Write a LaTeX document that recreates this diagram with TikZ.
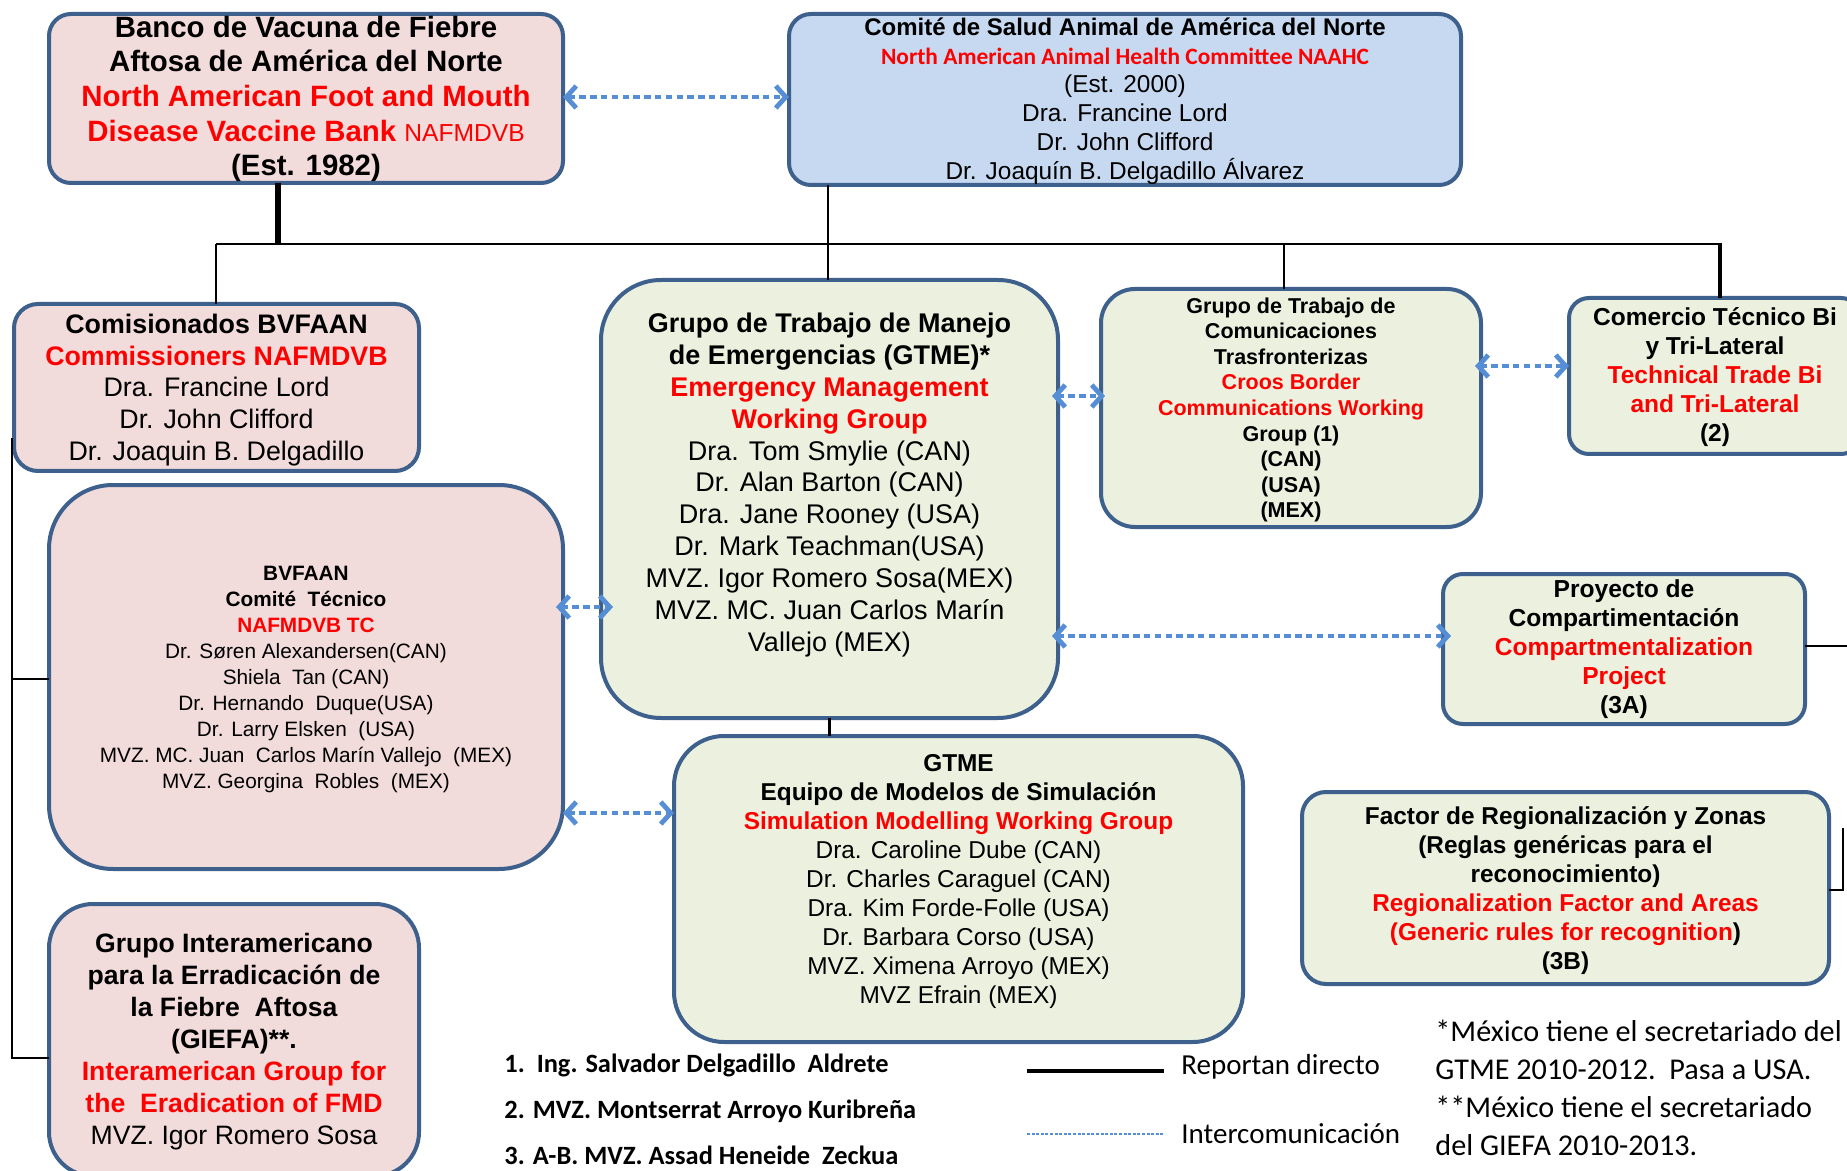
\documentclass[tikz,border=0pt]{standalone}
\usepackage{fontspec}
\setmainfont{Liberation Sans}
\newfontfamily\calfont{Carlito}
\usetikzlibrary{arrows.meta}
\definecolor{bordc}{RGB}{62,96,140}
\definecolor{pinkf}{RGB}{242,220,219}
\definecolor{bluef}{RGB}{198,217,241}
\definecolor{greenf}{RGB}{235,241,222}
\definecolor{arrc}{RGB}{85,142,213}
\definecolor{redt}{RGB}{255,0,0}
\newcommand{\fsz}[2]{\fontsize{#1}{#2}\selectfont}
\newcommand{\rd}[1]{\textcolor{redt}{#1}}
\begin{document}
\begin{tikzpicture}[x=0.5pt,y=-0.5pt,
  box/.style={draw=bordc, line width=2pt, inner sep=0pt, outer sep=0pt},
  pinkbox/.style={box, fill=pinkf},
  bluebox/.style={box, fill=bluef},
  greenbox/.style={box, fill=greenf},
  txt/.style={align=center, inner sep=0pt},
  org/.style={draw=black, line width=1.3pt},
  icom/.style={draw=arrc, line width=2.4pt, dash pattern=on 3.2pt off 2.2pt,
     {Straight Barb[length=5pt,width=11pt]}-{Straight Barb[length=5pt,width=11pt]}},
  legtxt/.style={anchor=west, inner sep=0pt},
]
\useasboundingbox (0,0) rectangle (1847,1171);
\clip (0,0) rectangle (1847,1171);

% ---------- boxes ----------
\node[pinkbox, rounded corners=11pt, minimum width=257pt, minimum height=84.5pt] (A) at (306,98.5) {};
\node[bluebox, rounded corners=11pt, minimum width=336pt, minimum height=85.5pt] (B) at (1125,99.5) {};
\node[pinkbox, rounded corners=12pt, minimum width=202.5pt, minimum height=83.5pt] (C) at (216.5,387.5) {};
\node[pinkbox, rounded corners=32pt, minimum width=257pt, minimum height=192pt] (D) at (306,677) {};
\node[pinkbox, rounded corners=22pt, minimum width=185pt, minimum height=136pt] (E) at (234,1040) {};
\node[greenbox, rounded corners=30pt, minimum width=228.5pt, minimum height=219pt] (F) at (829.5,499) {};
\node[greenbox, rounded corners=25pt, minimum width=284.5pt, minimum height=153pt] (G) at (958.5,889) {};
\node[greenbox, rounded corners=17pt, minimum width=190pt, minimum height=119pt] (H) at (1291,408) {};
\node[greenbox, rounded corners=10pt, minimum width=146pt, minimum height=78pt] (I) at (1715,376) {};
\node[greenbox, rounded corners=10pt, minimum width=181pt, minimum height=75pt] (J) at (1624,649) {};
\node[greenbox, rounded corners=12pt, minimum width=263.5pt, minimum height=96pt] (K) at (1565.5,888) {};

% ---------- texts ----------
\node[txt, font=\fsz{14.7}{17.35}] (At) at (306,99)
 {\textbf{Banco de Vacuna de Fiebre}\\
  \textbf{Aftosa de América del Norte}\\
  \rd{\textbf{North American Foot and Mouth}}\\
  \rd{\textbf{Disease Vaccine Bank} {\fsz{12.3}{17.35}NAFMDVB}}\\
  \textbf{(Est. 1982)}};

\node[txt, font=\fsz{12.2}{14.35}] (Bt) at (1125,101)
 {\textbf{\fsz{12}{14.35}Comité de Salud Animal de América del Norte}\\
  {\calfont\bfseries\fsz{11.7}{14.35}\color{redt}North American Animal Health Committee NAAHC}\\
  (Est. 2000)\\
  Dra. Francine Lord\\
  Dr. John Clifford\\
  Dr. Joaquín B. Delgadillo Álvarez};

\node[txt, font=\fsz{13.4}{15.9}] (Ct) at (216.5,390)
 {\textbf{Comisionados BVFAAN}\\
  \rd{\textbf{Commissioners NAFMDVB}}\\
  Dra. Francine Lord\\
  Dr. John Clifford\\
  Dr. Joaquin B. Delgadillo};

\node[txt, font=\fsz{10.4}{13}] (Dt) at (306,679)
 {\textbf{BVFAAN}\\
  \textbf{Comité\ \ Técnico}\\
  \rd{\textbf{NAFMDVB TC}}\\
  Dr. Søren Alexandersen(CAN)\\
  Shiela\ \ Tan (CAN)\\
  Dr. Hernando\ \ Duque(USA)\\
  Dr. Larry Elsken\ \ (USA)\\
  MVZ. MC. Juan\ \ Carlos Marín Vallejo\ \ (MEX)\\
  MVZ. Georgina\ \ Robles\ \ (MEX)};

\node[txt, font=\fsz{13.3}{16}] (Et) at (234,1042)
 {\textbf{Grupo Interamericano}\\
  \textbf{para la Erradicación de}\\
  \textbf{la Fiebre\ \ Aftosa}\\
  \textbf{(GIEFA)**.}\\
  \rd{\textbf{Interamerican Group for}}\\
  \rd{\textbf{the\ \ Eradication of FMD}}\\
  MVZ. Igor Romero Sosa};

\node[txt, font=\fsz{13.5}{15.95}] (Ft) at (829.5,485)
 {\textbf{Grupo de Trabajo de Manejo}\\
  \textbf{de Emergencias (GTME)*}\\
  \rd{\textbf{Emergency Management}}\\
  \rd{\textbf{Working Group}}\\
  Dra. Tom Smylie (CAN)\\
  Dr. Alan Barton (CAN)\\
  Dra. Jane Rooney (USA)\\
  Dr. Mark Teachman(USA)\\
  MVZ. Igor Romero Sosa(MEX)\\
  MVZ. MC. Juan Carlos Marín\\
  Vallejo (MEX)};

\node[txt, font=\fsz{12.2}{14.5}] (Gt) at (958.5,882)
 {\textbf{GTME}\\
  \textbf{Equipo de Modelos de Simulación}\\
  \rd{\textbf{Simulation Modelling Working Group}}\\
  Dra. Caroline Dube (CAN)\\
  Dr. Charles Caraguel (CAN)\\
  Dra. Kim Forde-Folle (USA)\\
  Dr. Barbara Corso (USA)\\
  MVZ. Ximena Arroyo (MEX)\\
  MVZ Efrain (MEX)};

\node[txt, font=\fsz{10.75}{12.8}\bfseries] (Ht) at (1291,410)
 {Grupo de Trabajo de\\
  Comunicaciones\\
  Trasfronterizas\\
  \rd{Croos Border}\\
  \rd{Communications Working}\\
  Group (1)\\
  (CAN)\\
  (USA)\\
  (MEX)};

\node[txt, font=\fsz{12.25}{14.45}\bfseries] (It) at (1715,377)
 {Comercio Técnico Bi\\
  y Tri-Lateral\\
  \rd{Technical Trade Bi}\\
  \rd{and Tri-Lateral}\\
  (2)};

\node[txt, font=\fsz{12.3}{14.45}\bfseries] (Jt) at (1624,649)
 {Proyecto de\\
  Compartimentación\\
  \rd{Compartmentalization}\\
  \rd{Project}\\
  (3A)};

\node[txt, font=\fsz{12.2}{14.5}\bfseries] (Kt) at (1565.5,891)
 {Factor de Regionalización y Zonas\\
  (Reglas genéricas para el\\
  reconocimiento)\\
  \rd{Regionalization Factor and Areas}\\
  \rd{(Generic rules for recognition}) \\
  (3B)};

% ---------- reporting lines ----------
\coordinate (busL) at (216,244);
\coordinate (busR) at (1722,244);
\coordinate (jA) at (278,244);
\coordinate (jB) at (828,244);
\coordinate (jH) at (1284,244);
\coordinate (jI) at (1720,244);
\draw[org] (busL) -- (busR);
\draw[org, line width=2.6pt] (jA |- A.south) -- (jA);
\draw[org] (busL) -- (busL |- C.north);
\draw[org] (jB |- B.south) -- (jB |- F.north);
\draw[org] (jH) -- (jH |- H.north);
\draw[org, line width=1.8pt] (jI) -- (jI |- I.north);
\draw[org] (F.south) -- (F.south |- G.north);

\coordinate (lvT) at (12,438);
\coordinate (lvD) at (12,679);
\coordinate (lvE) at (12,1058);
\draw[org] (lvT) -- (lvE) -- (lvE -| E.west);
\draw[org] (lvD) -- (lvD -| D.west);

\coordinate (rJ) at (1847,646);
\coordinate (rK) at (1843,890);
\coordinate (rK2) at (1843,828);
\draw[org] (J.east |- rJ) -- (rJ);
\draw[org] (K.east |- rK) -- (rK) -- (rK2);

% ---------- intercommunication ----------
\coordinate (yAB) at (0,97);
\coordinate (yFH) at (0,396);
\coordinate (yHI) at (0,366);
\coordinate (yDF) at (0,607);
\coordinate (yFJ) at (0,636);
\coordinate (yDG) at (0,813);
\draw[icom] (A.east |- yAB) -- (B.west |- yAB);
\draw[icom, shorten <=-3pt, shorten >=-2pt] (F.east |- yFH) -- (H.west |- yFH);
\draw[icom, shorten <=-3pt] (H.east |- yHI) -- (I.west |- yHI);
\draw[icom, shorten <=-3.5pt, shorten >=-6pt] (D.east |- yDF) -- (F.west |- yDF);
\draw[icom, shorten <=-3pt, shorten >=-4pt] (F.east |- yFJ) -- (J.west |- yFJ);
\draw[icom] (D.east |- yDG) -- (G.west |- yDG);

% ---------- legend ----------
\node[legtxt, font=\calfont\bfseries\fsz{13.2}{16}] (L1) at (504,1065) {1.\ \ Ing. Salvador Delgadillo\ \ Aldrete};
\node[legtxt, font=\calfont\bfseries\fsz{13.2}{16}] (L2) at (504,1111) {2. MVZ. Montserrat Arroyo Kuribreña};
\node[legtxt, font=\calfont\bfseries\fsz{13.2}{16}] (L3) at (504,1155) {3. A-B. MVZ. Assad Heneide\ \ Zeckua};

\coordinate (lg1a) at (1027,1071);
\coordinate (lg1b) at (1164,1071);
\coordinate (lg2a) at (1027,1134);
\coordinate (lg2b) at (1164,1134);
\draw[line width=1.6pt] (lg1a) -- (lg1b);
\draw[arrc, line width=1.2pt, dash pattern=on 1.5pt off 0.8pt] (lg2a) -- (lg2b);
\node[legtxt, font=\calfont\fsz{14.5}{17}] (R1) at (1181,1067) {Reportan directo};
\node[legtxt, font=\calfont\fsz{14.5}{17}] (R2) at (1181,1134) {Intercomunicación};

\node[legtxt, align=left, font=\calfont\fsz{15.1}{19}] (FN) at (1435,1088)
 {*México tiene el secretariado del\\
  GTME 2010-2012.\ \ Pasa a USA.\\
  **México tiene el secretariado\\
  del GIEFA 2010-2013.};
\end{tikzpicture}
\end{document}
